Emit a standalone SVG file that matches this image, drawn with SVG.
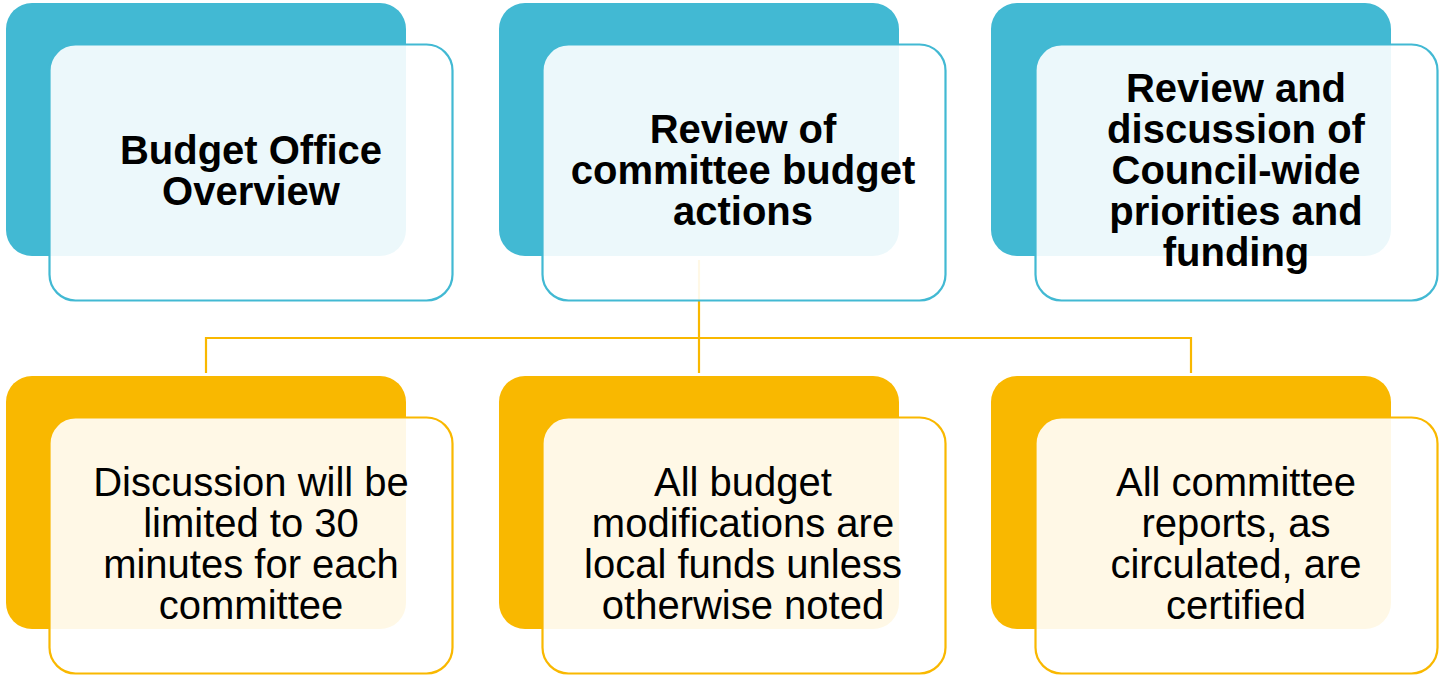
<svg xmlns="http://www.w3.org/2000/svg" width="1441" height="676" viewBox="0 0 1441 676">
<style>
.bt{fill:#42B9D3}
.bo{fill:#F9B800}
.ft{fill:#fff;fill-opacity:0.9;stroke:#42B9D3;stroke-width:2.2}
.fo{fill:#fff;fill-opacity:0.9;stroke:#F9B800;stroke-width:2.2}
.hb{font-family:"Liberation Sans",Arial,sans-serif;font-weight:bold;font-size:40px;fill:#000;text-anchor:middle}
.hr{font-family:"Liberation Sans",Arial,sans-serif;font-size:40px;fill:#000;text-anchor:middle}
.con{fill:none;stroke:#F9B800;stroke-width:2.2}
</style>
<rect width="1441" height="676" fill="#fff"/>
<g id="connectors">
<path class="con" d="M699 260V373M206 373V338H1191V373"/>
</g>
<g id="top1">
<rect class="bt" x="6" y="3" width="400" height="253" rx="26"/>
<rect class="ft" x="49.5" y="44.5" width="403" height="256" rx="26"/>
<text class="hb"><tspan x="251" y="164">Budget Office</tspan><tspan x="251" y="205">Overview</tspan></text>
</g>
<g id="top2">
<rect class="bt" x="499" y="3" width="400" height="253" rx="26"/>
<rect class="ft" x="542.5" y="44.5" width="403" height="256" rx="26"/>
<text class="hb"><tspan x="743" y="143">Review of</tspan><tspan x="743" y="184">committee budget</tspan><tspan x="743" y="225">actions</tspan></text>
</g>
<g id="top3">
<rect class="bt" x="991" y="3" width="400" height="253" rx="26"/>
<rect class="ft" x="1035.5" y="44.5" width="402" height="256" rx="26"/>
<text class="hb"><tspan x="1236" y="102">Review and</tspan><tspan x="1236" y="143">discussion of</tspan><tspan x="1236" y="184">Council-wide</tspan><tspan x="1236" y="225">priorities and</tspan><tspan x="1236" y="266">funding</tspan></text>
</g>
<g id="bot1">
<rect class="bo" x="6" y="376" width="400" height="253" rx="26"/>
<rect class="fo" x="49.5" y="417.5" width="403" height="256" rx="26"/>
<text class="hr"><tspan x="251" y="496">Discussion will be</tspan><tspan x="251" y="537">limited to 30</tspan><tspan x="251" y="578">minutes for each</tspan><tspan x="251" y="619">committee</tspan></text>
</g>
<g id="bot2">
<rect class="bo" x="499" y="376" width="400" height="253" rx="26"/>
<rect class="fo" x="542.5" y="417.5" width="403" height="256" rx="26"/>
<text class="hr"><tspan x="743" y="496">All budget</tspan><tspan x="743" y="537">modifications are</tspan><tspan x="743" y="578">local funds unless</tspan><tspan x="743" y="619">otherwise noted</tspan></text>
</g>
<g id="bot3">
<rect class="bo" x="991" y="376" width="400" height="253" rx="26"/>
<rect class="fo" x="1035.5" y="417.5" width="402" height="256" rx="26"/>
<text class="hr"><tspan x="1236" y="496">All committee</tspan><tspan x="1236" y="537">reports, as</tspan><tspan x="1236" y="578">circulated, are</tspan><tspan x="1236" y="619">certified</tspan></text>
</g>
</svg>
